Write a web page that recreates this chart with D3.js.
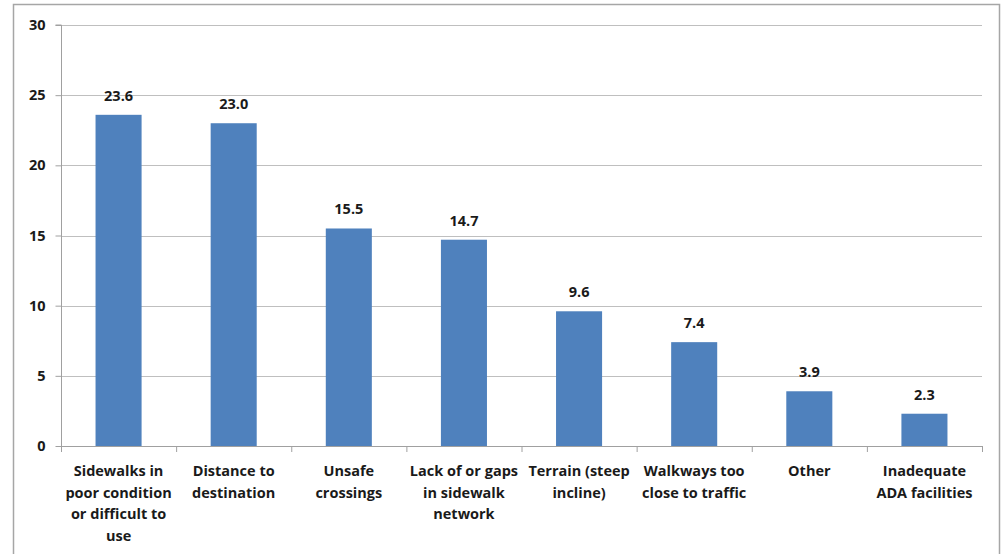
<!DOCTYPE html>
<html><head><meta charset="utf-8">
<script src="https://cdn.jsdelivr.net/npm/d3@7"></script>
<style>
html,body{margin:0;padding:0;background:#fff;}
svg{display:block;}
text{font-family:"Open Sans",sans-serif;font-weight:700;fill:#1a1a1a;}
</style></head>
<body>
<svg id="c" width="1005" height="554"></svg>
<script>
const categories = [
  ["Sidewalks in","poor condition","or difficult to","use"],
  ["Distance to","destination"],
  ["Unsafe","crossings"],
  ["Lack of or gaps","in sidewalk","network"],
  ["Terrain (steep","incline)"],
  ["Walkways too","close to traffic"],
  ["Other"],
  ["Inadequate","ADA facilities"]
];
const values = [23.6, 23.0, 15.5, 14.7, 9.6, 7.4, 3.9, 2.3];
const yTicks = [0, 5, 10, 15, 20, 25, 30];

const FS = 14.5;
const svg = d3.select("#c");
// outer frame
svg.append("rect").attr("x",13.5).attr("y",4.5).attr("width",986).attr("height",560)
  .attr("fill","none").attr("stroke","#a6a6a6").attr("stroke-width",1.5);

const L=61, R=982, T=25, B=446;
const x = d3.scaleBand().domain(d3.range(values.length)).range([L,R]).paddingInner(0.6).paddingOuter(0.3);
const xb = d3.scaleBand().domain(d3.range(values.length)).range([L,R]);
const y = d3.scaleLinear().domain([0,30]).range([B,T]);

// gridlines
svg.append("g").selectAll("line").data(yTicks.filter(d=>d>0)).join("line")
  .attr("x1",L).attr("x2",R).attr("y1",d=>Math.round(y(d))+0.5).attr("y2",d=>Math.round(y(d))+0.5)
  .attr("stroke","#bfbfbf").attr("stroke-width",1);

// y axis
const ya = svg.append("g").attr("transform",`translate(${L+0.5},0)`)
  .call(d3.axisLeft(y).tickValues(yTicks).tickSize(6).tickPadding(10).tickFormat(d3.format("d")));
ya.select(".domain").attr("stroke","#a0a0a0").attr("d",`M-6,${T}H0V${B}`);
ya.selectAll(".tick line").attr("stroke","#a0a0a0");
ya.selectAll(".tick text").attr("font-size",FS).attr("font-family","Open Sans").attr("font-weight",700).attr("fill","#1a1a1a");

// bars
svg.append("g").selectAll("rect").data(values).join("rect")
  .attr("x",(d,i)=>x(i)).attr("width",x.bandwidth())
  .attr("y",d=>y(d)).attr("height",d=>B-y(d))
  .attr("fill","#4f81bd");

// x axis line and ticks
svg.append("line").attr("x1",L).attr("x2",R).attr("y1",B+0.5).attr("y2",B+0.5).attr("stroke","#a0a0a0");
svg.append("g").selectAll("line").data(d3.range(values.length+1)).join("line")
  .attr("x1",i=>(i<values.length?xb(i):R)+0.5).attr("x2",i=>(i<values.length?xb(i):R)+0.5)
  .attr("y1",B).attr("y2",B+6).attr("stroke","#a0a0a0");

// value labels
svg.append("g").selectAll("text").data(values).join("text")
  .attr("x",(d,i)=>x(i)+x.bandwidth()/2).attr("y",d=>y(d)-14)
  .attr("text-anchor","middle").attr("font-size",FS)
  .text(d=>d.toFixed(1));

// category labels
const cg = svg.append("g").selectAll("text").data(categories).join("text")
  .attr("x",(d,i)=>xb(i)+xb.bandwidth()/2).attr("y",B+30)
  .attr("text-anchor","middle").attr("font-size",FS);
cg.selectAll("tspan").data(d=>d).join("tspan")
  .attr("x",function(){return this.parentNode.getAttribute("x");})
  .attr("dy",(d,i)=>i===0?0:21.5).text(d=>d);
</script>
</body></html>
